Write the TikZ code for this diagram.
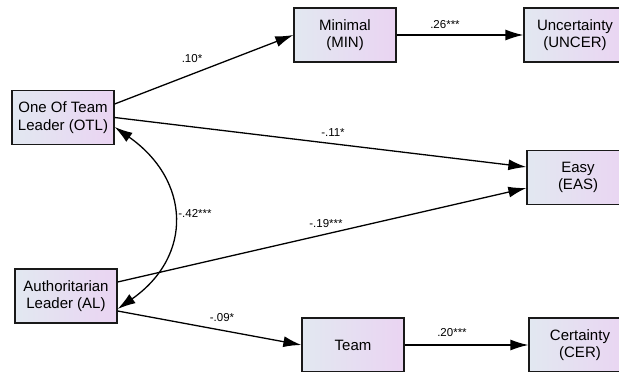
\documentclass[tikz,border=0pt]{standalone}
\usepackage{fontspec}
\setmainfont{Liberation Sans}
\usepackage{xcolor}
\usetikzlibrary{arrows.meta}

\definecolor{boxl}{RGB}{226,232,241}
\definecolor{boxr}{RGB}{234,212,242}

\tikzset{
  var/.style={draw=black!90, line width=1.3pt, left color=boxl, right color=boxr,
    minimum width=102pt, minimum height=54pt, inner sep=0pt, align=center,
    font=\fontsize{15}{17.5}\selectfont},
  reg/.style={-{Latex[length=18pt,width=11pt]}, line width=1.3pt},
  cov/.style={{Latex[length=18pt,width=11pt]}-{Latex[length=18pt,width=11pt]}, line width=1.3pt},
  coef/.style={font=\fontsize{11.5}{13}\selectfont}
}

\begin{document}
\begin{tikzpicture}[x=1pt,y=1pt]

\path[use as bounding box, clip] (0,0) rectangle (619,372);

\node[var] (otl) at (63,254.5) {One Of Team\\Leader (OTL)};
\node[var] (al) at (66,76) {Authoritarian\\Leader (AL)};
\node[var] (min) at (345,337) {Minimal\\(MIN)};
\node[var] (uncer) at (575,337) {Uncertainty\\(UNCER)};
\node[var] (eas) at (578,194.5) {Easy\\(EAS)};
\node[var] (team) at (353,27) {Team};
\node[var] (cer) at (580,27) {Certainty\\(CER)};

\draw[reg] ([yshift=13.5pt]otl.east) -- (min.west);
\draw[reg] (otl.east) -- ([yshift=10.5pt]eas.west);
\draw[reg] ([yshift=14pt]al.east) -- ([yshift=-10.5pt]eas.west);
\draw[reg] ([yshift=-15pt]al.east) -- (team.west);
\draw[reg] (min.east) -- (uncer.west);
\draw[reg] (team.east) -- (cer.west);
\draw[cov] ([yshift=-9.5pt]otl.east) to[out=-35,in=35,looseness=1.3] ([yshift=-13pt]al.east);

% path coefficients
\foreach \t/\x/\y in {.10*/192/313, .26***/445/347, -.11*/333/239, -.19***/326/148,
  -.42***/195/159, -.09*/222/54, .20***/452/39}
{ \node[coef] at (\x,\y) {\t};
}
\end{tikzpicture}
\end{document}
